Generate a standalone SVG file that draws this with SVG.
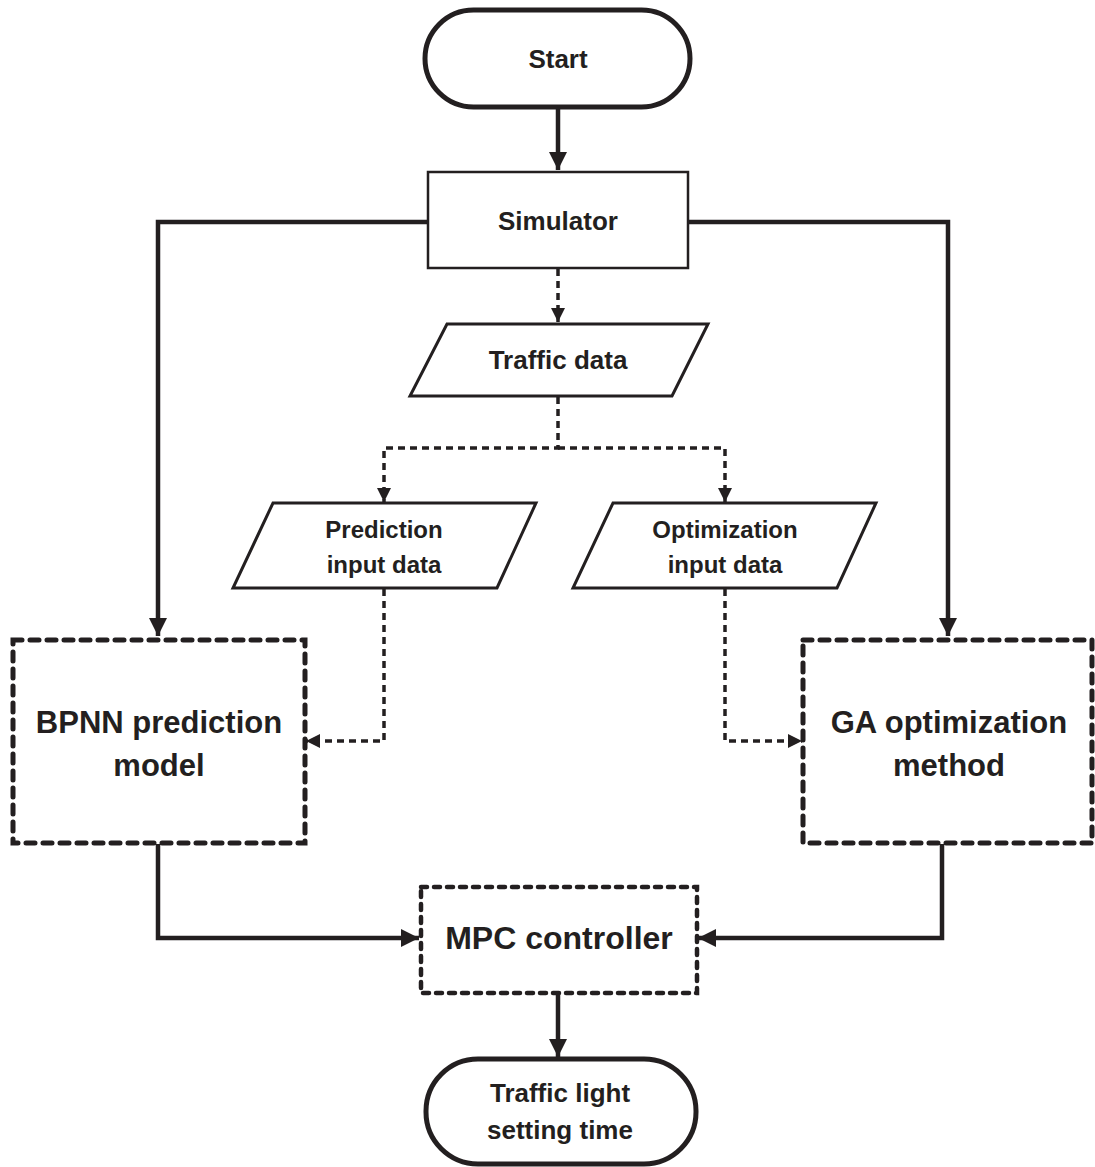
<svg xmlns="http://www.w3.org/2000/svg" width="1095" height="1167" viewBox="0 0 1095 1167">
<style>
text{font-family:"Liberation Sans",Arial,sans-serif;font-weight:bold;fill:#231f20;text-anchor:middle;dominant-baseline:central}
.term{fill:#fff;stroke:#231f20;stroke-width:5}
.proc{fill:#fff;stroke:#231f20;stroke-width:2.5}
.io{fill:#fff;stroke:#231f20;stroke-width:3}
.big{fill:#fff;stroke:#231f20;stroke-width:5;stroke-dasharray:9 8;stroke-linecap:round}
.mpc{fill:#fff;stroke:#231f20;stroke-width:4.5;stroke-dasharray:6 7;stroke-linecap:round}
.solid{fill:none;stroke:#231f20;stroke-width:4.5}
.dot{fill:none;stroke:#231f20;stroke-width:3.5;stroke-dasharray:7 5}
</style>
<defs>
<marker id="ah" markerUnits="userSpaceOnUse" markerWidth="20" markerHeight="18" refX="18" refY="9" orient="auto">
<path d="M0,0 L18,9 L0,18 Z" fill="#231f20"/>
</marker>
<marker id="ahs" markerUnits="userSpaceOnUse" markerWidth="16" markerHeight="14" refX="14" refY="7" orient="auto">
<path d="M0,0 L14,7 L0,14 Z" fill="#231f20"/>
</marker>
</defs>
<g id="connectors">
<path class="solid" d="M558,107 V170" marker-end="url(#ah)"/>
<path class="solid" d="M428,222 H158 V636" marker-end="url(#ah)"/>
<path class="solid" d="M688,222 H948 V636" marker-end="url(#ah)"/>
<path class="dot" d="M558,269 V322" marker-end="url(#ahs)"/>
<path class="dot" d="M558,397 V448 H384 V502" marker-end="url(#ahs)"/>
<path class="dot" d="M558,448 H725 V502" marker-end="url(#ahs)"/>
<path class="dot" d="M384,589 V741 H306" marker-end="url(#ahs)"/>
<path class="dot" d="M725,589 V741 H802" marker-end="url(#ahs)"/>
<path class="solid" d="M158,844 V938 H419" marker-end="url(#ah)"/>
<path class="solid" d="M942,844 V938 H698" marker-end="url(#ah)"/>
<path class="solid" d="M558,994 V1057" marker-end="url(#ah)"/>
</g>
<g id="start">
<rect class="term" x="425" y="10" width="265" height="97" rx="48.5"/>
<text x="558" y="59" font-size="26">Start</text>
</g>
<g id="simulator">
<rect class="proc" x="428" y="172" width="260" height="96"/>
<text x="558" y="221" font-size="26">Simulator</text>
</g>
<g id="traffic-data">
<polygon class="io" points="447,324 708,324 672,396 410,396"/>
<text x="558" y="360" font-size="26">Traffic data</text>
</g>
<g id="prediction-input">
<polygon class="io" points="273,503 536,503 497,588 233,588"/>
<text x="384" y="529" font-size="24">Prediction</text>
<text x="384" y="564" font-size="24">input data</text>
</g>
<g id="optimization-input">
<polygon class="io" points="613,503 876,503 837,588 573,588"/>
<text x="725" y="529" font-size="24">Optimization</text>
<text x="725" y="564" font-size="24">input data</text>
</g>
<g id="bpnn">
<rect class="big" x="13" y="640" width="292" height="203"/>
<text x="159" y="722" font-size="31">BPNN prediction</text>
<text x="159" y="765" font-size="31">model</text>
</g>
<g id="ga">
<rect class="big" x="803" y="640" width="289" height="203"/>
<text x="949" y="722" font-size="31">GA optimization</text>
<text x="949" y="765" font-size="31">method</text>
</g>
<g id="mpc">
<rect class="mpc" x="421" y="887" width="276" height="106"/>
<text x="559" y="938" font-size="32">MPC controller</text>
</g>
<g id="end">
<rect class="term" x="426" y="1059" width="270" height="105" rx="52"/>
<text x="560" y="1093" font-size="26">Traffic light</text>
<text x="560" y="1130" font-size="26">setting time</text>
</g>
</svg>
